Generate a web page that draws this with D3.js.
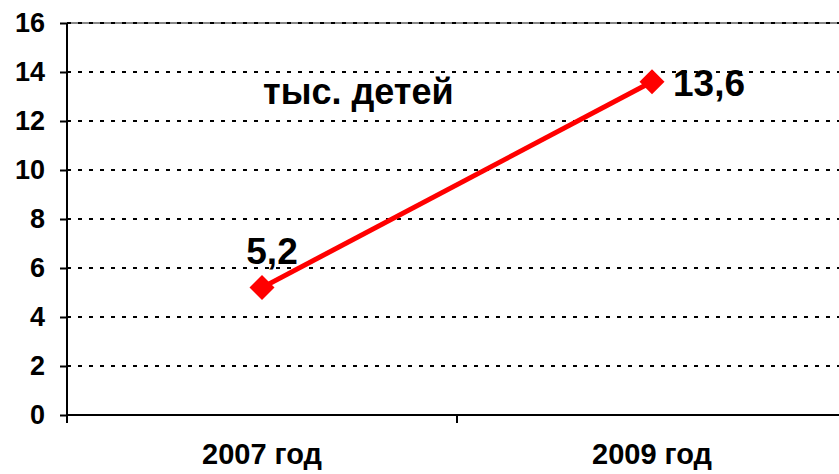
<!DOCTYPE html>
<html>
<head>
<meta charset="utf-8">
<script src="https://cdn.jsdelivr.net/npm/d3@7"></script>
<style>
  body { margin: 0; background: #fff; }
  text { font-family: "Liberation Sans", Arial, sans-serif; font-weight: bold; fill: #000; }
</style>
</head>
<body>
<div id="chart"></div>
<script>
    var width = 839,
        height = 474,
        margin = {top: 23, right: -8, bottom: 59, left: 67};

    // data
    var categories = ["2007 год", "2009 год"];
    var values = [5.2, 13.6];
    var labels = ["5,2", "13,6"];
    var yTicks = [0, 2, 4, 6, 8, 10, 12, 14, 16];
    var unitLabel = "тыс. детей";

    var svg = d3.select("#chart").append("svg")
        .attr("width", width)
        .attr("height", height);

    var x = d3.scaleBand()
        .domain(categories)
        .range([margin.left, width - margin.right]);

    var y = d3.scaleLinear()
        .domain([0, 16])
        .range([height - margin.bottom, margin.top]);

    // plot top border
    svg.append("line")
        .attr("x1", margin.left).attr("x2", width)
        .attr("y1", y(16)).attr("y2", y(16))
        .style("stroke", "#888")
        .style("stroke-width", 2);

    // gridlines
    svg.append("g").selectAll("line")
        .data(yTicks.filter(function (d) { return d > 0; }))
        .enter().append("line")
        .attr("x1", margin.left).attr("x2", width)
        .attr("y1", function (d) { return y(d); })
        .attr("y2", function (d) { return y(d); })
        .style("stroke", "#000")
        .style("stroke-width", 2)
        .style("stroke-dasharray", "4,7");

    // y axis
    var yAxis = svg.append("g")
        .attr("transform", "translate(" + margin.left + ",0)")
        .call(d3.axisLeft(y).tickValues(yTicks).tickSize(7).tickPadding(15));
    yAxis.select(".domain").attr("d", "M0," + y(16) + "V" + (y(0) + 7))
        .style("stroke-width", 2);
    yAxis.selectAll(".tick line").style("stroke-width", 2);
    yAxis.selectAll(".tick text").style("font-size", "27px");

    // x axis
    var xAxis = svg.append("g")
        .attr("transform", "translate(0," + y(0) + ")")
        .call(d3.axisBottom(x).tickSize(0).tickPadding(28));
    xAxis.select(".domain").attr("d", "M" + margin.left + ",0H" + width)
        .style("stroke-width", 2);
    xAxis.selectAll(".tick text").style("font-size", "29px");
    xAxis.append("g").selectAll("line")
        .data(x.domain().map(function (d) { return x(d); }).concat([x.range()[1]]))
        .enter().append("line")
        .attr("x1", function (d) { return d; }).attr("x2", function (d) { return d; })
        .attr("y1", 0).attr("y2", 8)
        .style("stroke", "#000")
        .style("stroke-width", 2);

    var pts = categories.map(function (c, i) {
        return {cat: c, value: values[i], label: labels[i]};
    });
    var cx = function (d) { return x(d.cat) + x.bandwidth() / 2; };

    // line
    svg.append("path")
        .datum(pts)
        .attr("d", d3.line().x(cx).y(function (d) { return y(d.value); }))
        .style("fill", "none")
        .style("stroke", "#ff0000")
        .style("stroke-width", 5);

    // diamond markers
    svg.append("g").selectAll("path")
        .data(pts)
        .enter().append("path")
        .attr("transform", function (d) { return "translate(" + cx(d) + "," + y(d.value) + ")"; })
        .attr("d", "M0,-12.5L12.5,0L0,12.5L-12.5,0Z")
        .style("fill", "#ff0000");

    // value labels
    svg.append("text")
        .attr("x", cx(pts[0]) + 10)
        .attr("y", y(pts[0].value) - 24)
        .attr("text-anchor", "middle")
        .style("font-size", "37px")
        .text(pts[0].label);
    svg.append("text")
        .attr("x", cx(pts[1]) + 21)
        .attr("y", y(pts[1].value) + 14)
        .style("font-size", "37px")
        .text(pts[1].label);

    // unit label
    svg.append("text")
        .attr("x", 263)
        .attr("y", 104)
        .style("font-size", "36px")
        .text(unitLabel);
</script>
</body>
</html>
